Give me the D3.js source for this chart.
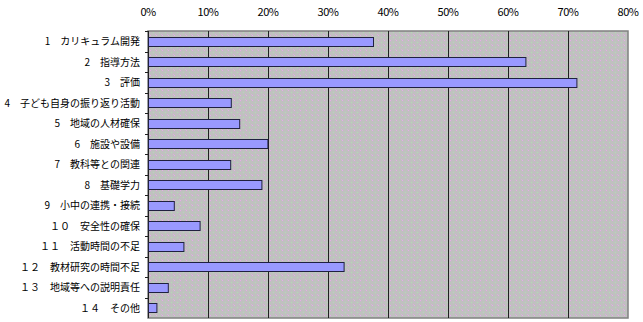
<!DOCTYPE html>
<html><head><meta charset="utf-8">
<script src="https://cdn.jsdelivr.net/npm/d3@7"></script>
<style>body{margin:0;background:#fff;}svg{display:block;}</style>
</head><body>
<script>
const categories = ["1　カリキュラム開発","2　指導方法","3　評価","4　子ども自身の振り返り活動","5　地域の人材確保","6　施設や設備","7　教科等との関連","8　基礎学力","9　小中の連携・接続","１０　安全性の確保","１１　活動時間の不足","１２　教材研究の時間不足","１３　地域等への説明責任","１４　その他"];
const values = [37.5, 62.9, 71.4, 13.8, 15.2, 19.9, 13.7, 18.9, 4.3, 8.6, 5.9, 32.6, 3.3, 1.4];
const tickValues = [0,10,20,30,40,50,60,70,80];

const W=643,H=322;
const m={left:148,top:31,right:15,bottom:4};
const svg=d3.select("body").append("svg").attr("width",W).attr("height",H);
const defs=svg.append("defs");
const pat=defs.append("pattern").attr("id","dither").attr("width",6).attr("height",5).attr("patternUnits","userSpaceOnUse");
pat.append("rect").attr("width",6).attr("height",5).attr("fill","#c0c0c0");
[[0,0,"#e8a8e8"],[3,2,"#b0e0b0"],[5,4,"#d8b0d8"]].forEach(([x,y,c])=>pat.append("rect").attr("x",x).attr("y",y).attr("width",1).attr("height",1).attr("fill",c));

const x=d3.scaleLinear().domain([0,80]).range([m.left,W-m.right]);
const y=d3.scaleBand().domain(categories).range([m.top,H-m.bottom]).paddingInner(0.56).paddingOuter(0.28);
const yb=d3.scaleBand().domain(categories).range([m.top,H-m.bottom]);

svg.append("rect").attr("x",x(0)).attr("y",m.top).attr("width",x(80)-x(0)).attr("height",H-m.bottom-m.top).attr("fill","url(#dither)").attr("stroke","#808080").attr("stroke-width",1.5);

svg.append("g").selectAll("line").data(tickValues.slice(1,-1)).join("line")
 .attr("x1",d=>Math.round(x(d))+0.5).attr("x2",d=>Math.round(x(d))+0.5)
 .attr("y1",m.top).attr("y2",H-m.bottom).attr("stroke","#202020").attr("stroke-width",1);

svg.append("line").attr("x1",x(0)+0.5).attr("x2",x(0)+0.5).attr("y1",m.top).attr("y2",H-m.bottom).attr("stroke","#202020");
svg.append("g").selectAll("line").data(categories).join("line")
 .attr("x1",x(0)-3).attr("x2",x(0)).attr("y1",d=>Math.round(yb(d))+0.5).attr("y2",d=>Math.round(yb(d))+0.5).attr("stroke","#202020");

svg.append("g").selectAll("rect").data(values).join("rect")
 .attr("x",x(0)+0.5).attr("y",(d,i)=>Math.round(y(categories[i]))+0.5)
 .attr("width",d=>x(d)-x(0)).attr("height",Math.round(y.bandwidth()))
 .attr("fill","#9999ff").attr("stroke","#202040").attr("stroke-width",1);

const font="'MS PGothic','Noto Sans CJK JP',sans-serif";
svg.append("g").selectAll("text").data(tickValues).join("text")
 .attr("x",d=>x(d)).attr("y",16).attr("text-anchor","middle")
 .attr("font-family",font).attr("font-size",11).attr("fill","#000").attr("letter-spacing","-0.5")
 .text(d=>d+"%");

svg.append("g").selectAll("text").data(categories).join("text")
 .attr("x",140).attr("y",d=>yb(d)+yb.bandwidth()/2+4).attr("text-anchor","end")
 .attr("font-family",font).attr("font-size",10).attr("fill","#000")
 .text(d=>d);
</script>
</body></html>
